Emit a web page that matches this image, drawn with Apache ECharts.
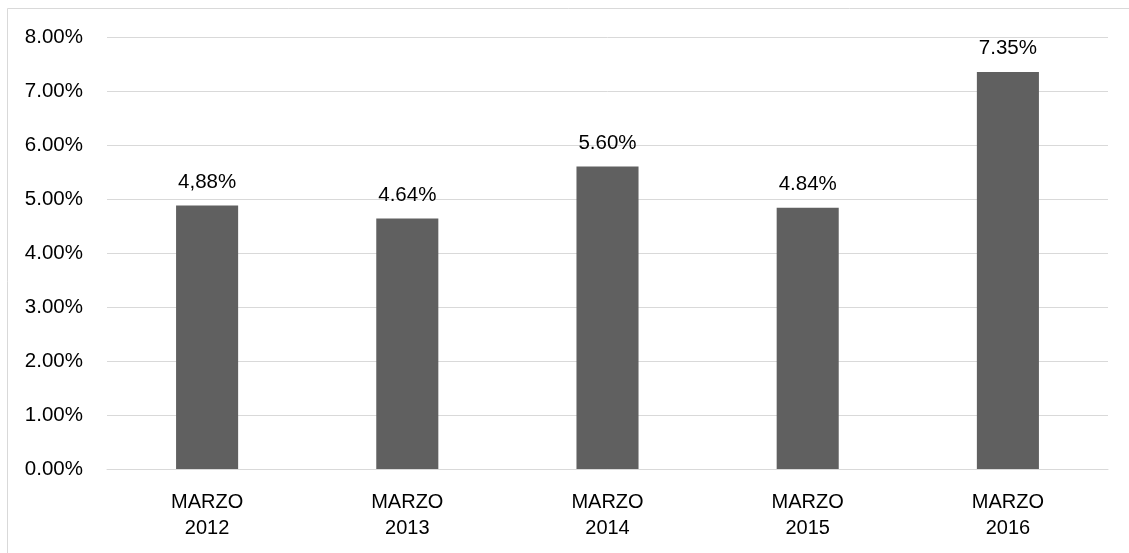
<!DOCTYPE html>
<html>
<head>
<meta charset="utf-8">
<script src="https://cdn.jsdelivr.net/npm/echarts@6/dist/echarts.min.js"></script>
<style>
  html, body { margin: 0; padding: 0; background: #ffffff; }
  #chart { width: 1129px; height: 553px; }
</style>
</head>
<body>
<div id="chart"></div>
<script>
// Tasa anual por año (marzo), en porcentaje
const categories = ['MARZO\n2012', 'MARZO\n2013', 'MARZO\n2014', 'MARZO\n2015', 'MARZO\n2016'];
const values = [4.88, 4.64, 5.60, 4.84, 7.35];
const valueLabels = ['4,88%', '4.64%', '5.60%', '4.84%', '7.35%'];

const FONT = '"Liberation Sans", Arial, sans-serif';
const chart = echarts.init(document.getElementById('chart'), null, { renderer: 'canvas' });

chart.setOption({
  backgroundColor: '#ffffff',
  animation: false,
  graphic: [{
    type: 'rect',
    shape: { x: 7.5, y: 8.5, width: 1140, height: 560 },
    style: { fill: 'none', stroke: '#d9d9d9', lineWidth: 1 },
    silent: true
  }],
  grid: { left: 107, right: 21, top: 37, bottom: 84, containLabel: false },
  xAxis: {
    type: 'category',
    data: categories,
    axisLine: { show: true, lineStyle: { color: '#d9d9d9', width: 1 } },
    axisTick: { show: false },
    axisLabel: {
      color: '#000000', fontFamily: FONT, fontSize: 20, lineHeight: 26, margin: 20
    }
  },
  yAxis: {
    type: 'value',
    min: 0, max: 8, interval: 1,
    axisLine: { show: false },
    axisTick: { show: false },
    splitLine: { lineStyle: { color: '#d9d9d9', width: 1 } },
    axisLabel: {
      color: '#000000', fontFamily: FONT, fontSize: 20.5, margin: 24,
      formatter: v => v.toFixed(2) + '%'
    }
  },
  series: [{
    type: 'bar',
    data: values,
    barWidth: '31%',
    itemStyle: { color: '#606060' },
    label: {
      show: true, position: 'top', distance: 13,
      color: '#000000', fontFamily: FONT, fontSize: 20.5,
      formatter: p => valueLabels[p.dataIndex]
    }
  }]
});
</script>
</body>
</html>
